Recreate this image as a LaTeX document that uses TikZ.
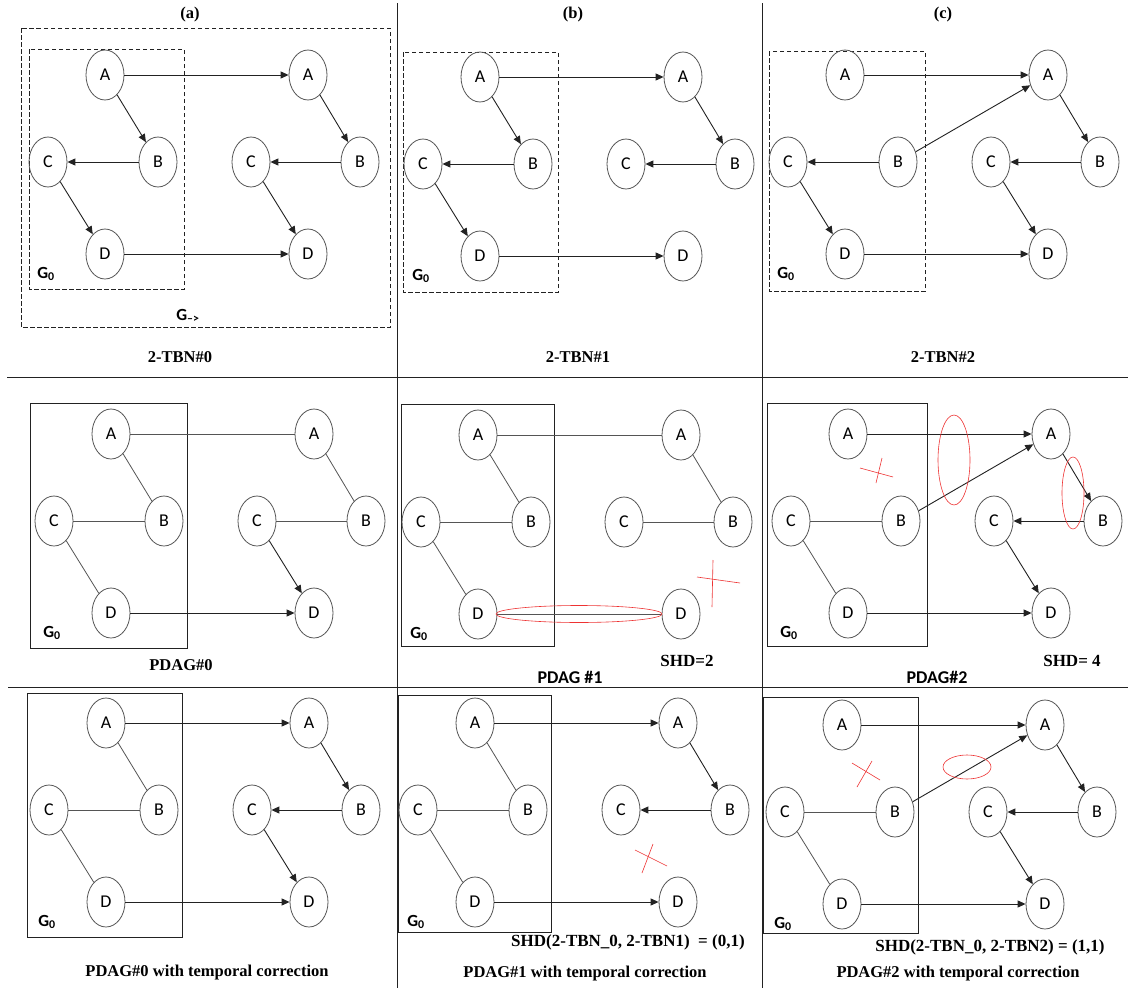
\documentclass[tikz,border=0pt]{standalone}
\usepackage{fontspec}
\setmainfont{Liberation Serif}
\setsansfont{Carlito}
\usetikzlibrary{shapes.geometric, arrows.meta}
\definecolor{Edge}{HTML}{222222}
\definecolor{Ring}{HTML}{555555}
\definecolor{Mark}{HTML}{EE3333}

\tikzset{
  var/.style={ellipse, draw=Ring, line width=0.8pt, minimum width=38pt, minimum height=50pt, inner sep=0pt, font=\sffamily\fontsize{18}{18}\selectfont},
  dir/.style={draw=Edge, line width=0.9pt, -{Triangle[length=8pt, width=7pt]}},
  und/.style={draw=Ring, line width=0.8pt},
  frame/.style={draw=Edge, line width=0.9pt},
  dframe/.style={draw=Edge, line width=0.8pt, dash pattern=on 4.5pt off 2.5pt},
  glabel/.style={font=\sffamily\bfseries\fontsize{17}{17}\selectfont},
  caption/.style={font=\bfseries\fontsize{16.5}{16.5}\selectfont},
  shdlabel/.style={font=\bfseries\fontsize{17}{17}\selectfont},
  sfcaption/.style={font=\sffamily\bfseries\fontsize{18}{18}\selectfont},
  redmark/.style={draw=Mark, line width=0.6pt},
}

% two time slices of the network, A of slice 0 at (#2,#3)
\newcommand{\slices}[3]{%
  \begin{scope}[shift={(#2,#3)}]
    \node[var] (#1A0) at (0,0) {A};
    \node[var] (#1B0) at (53,87) {B};
    \node[var] (#1C0) at (-57,87) {C};
    \node[var] (#1D0) at (0,179) {D};
    \node[var] (#1A1) at (203,0) {A};
    \node[var] (#1B1) at (255,87) {B};
    \node[var] (#1C1) at (146,87) {C};
    \node[var] (#1D1) at (203,179) {D};
    \node[glabel] (#1G) at (-59,199) {G\textsubscript{0}};
  \end{scope}}

\begin{document}
\begin{tikzpicture}[x=1pt, y=-1pt]
  \path[use as bounding box, fill=white] (0,0) rectangle (1128,988);

  % grid
  \draw[frame] (397,3) -- (397,988);
  \draw[frame] (762,3) -- (762,988);
  \draw[frame] (7,377) -- (1128,377);
  \draw[frame] (8,687) -- (1128,687);

  % row 1: 2-TBN
  \node[caption] (cola) at (190,15) {(a)};
  \node[caption] (colb) at (573,15) {(b)};
  \node[caption] (colc) at (943,15) {(c)};

  \draw[dframe] (21,28) rectangle (390,327);
  \draw[dframe] (29,49) rectangle (184,289);
  \slices{ta}{105}{75}
  \node[glabel] (tagto) at (188,316) {G\textsubscript{-->}};
  \draw[dir] (taA0) -- (taA1);
  \draw[dir] (taA0) -- (taB0);
  \draw[dir] (taB0) -- (taC0);
  \draw[dir] (taC0) -- (taD0);
  \draw[dir] (taD0) -- (taD1);
  \draw[dir] (taA1) -- (taB1);
  \draw[dir] (taB1) -- (taC1);
  \draw[dir] (taC1) -- (taD1);
  \node[caption] (tacap) at (180,357) {2-TBN\#0};

  \draw[dframe] (403,52) rectangle (558,292);
  \slices{tb}{480}{77}
  \draw[dir] (tbA0) -- (tbA1);
  \draw[dir] (tbA0) -- (tbB0);
  \draw[dir] (tbB0) -- (tbC0);
  \draw[dir] (tbC0) -- (tbD0);
  \draw[dir] (tbD0) -- (tbD1);
  \draw[dir] (tbA1) -- (tbB1);
  \draw[dir] (tbB1) -- (tbC1);
  \node[caption] (tbcap) at (578,357) {2-TBN\#1};

  \draw[dframe] (769,51) rectangle (925,291);
  \slices{tc}{845}{75}
  \draw[dir] (tcA0) -- (tcA1);
  \draw[dir] (tcB0) -- (tcA1);
  \draw[dir] (tcB0) -- (tcC0);
  \draw[dir] (tcC0) -- (tcD0);
  \draw[dir] (tcD0) -- (tcD1);
  \draw[dir] (tcA1) -- (tcB1);
  \draw[dir] (tcB1) -- (tcC1);
  \draw[dir] (tcC1) -- (tcD1);
  \node[caption] (tccap) at (943,357) {2-TBN\#2};

  % row 2: PDAG
  \draw[frame] (30,403) rectangle (187,648);
  \slices{pa}{111}{434}
  \draw[und] (paA0) -- (paA1);
  \draw[und] (paA0) -- (paB0);
  \draw[und] (paC0) -- (paB0);
  \draw[und] (paC0) -- (paD0);
  \draw[dir] (paD0) -- (paD1);
  \draw[und] (paA1) -- (paB1);
  \draw[und] (paC1) -- (paB1);
  \draw[dir] (paC1) -- (paD1);
  \node[caption] (pacap) at (181,665) {PDAG\#0};

  \draw[frame] (401,404) rectangle (554,646);
  \slices{pb}{478}{435}
  \draw[und] (pbA0) -- (pbA1);
  \draw[und] (pbA0) -- (pbB0);
  \draw[und] (pbC0) -- (pbB0);
  \draw[und] (pbC0) -- (pbD0);
  \draw[und] (pbD0) -- (pbD1);
  \draw[und] (pbA1) -- (pbB1);
  \draw[und] (pbC1) -- (pbB1);
  \draw[redmark] (579,614) ellipse [x radius=83pt, y radius=8.5pt];
  \draw[redmark] (697,577) -- (740,583);
  \draw[redmark] (713,560) -- (712,607);
  \node[shdlabel] (pbshd) at (687,661) {SHD=2};
  \node[sfcaption] (pbcap) at (570,677) {PDAG \#1};

  \draw[frame] (767,403) rectangle (927,646);
  \slices{pc}{848}{434}
  \draw[dir] (pcA0) -- (pcA1);
  \draw[dir] (pcB0) -- (pcA1);
  \draw[und] (pcC0) -- (pcB0);
  \draw[und] (pcC0) -- (pcD0);
  \draw[dir] (pcD0) -- (pcD1);
  \draw[dir] (pcA1) -- (pcB1);
  \draw[dir] (pcB1) -- (pcC1);
  \draw[dir] (pcC1) -- (pcD1);
  \draw[redmark] (954,460) ellipse [x radius=16pt, y radius=45pt];
  \draw[redmark] (1073,493) ellipse [x radius=11pt, y radius=36pt];
  \draw[redmark] (860,468) -- (893,477);
  \draw[redmark] (882,458) -- (876,483);
  \node[shdlabel] (pcshd) at (1072,661) {SHD= 4};
  \node[sfcaption] (pccap) at (937,677) {PDAG\#2};

  % row 3: PDAG with temporal correction
  \draw[frame] (27,693) rectangle (182,937);
  \slices{ca}{106}{723}
  \draw[dir] (caA0) -- (caA1);
  \draw[und] (caA0) -- (caB0);
  \draw[und] (caC0) -- (caB0);
  \draw[und] (caC0) -- (caD0);
  \draw[dir] (caD0) -- (caD1);
  \draw[dir] (caA1) -- (caB1);
  \draw[dir] (caB1) -- (caC1);
  \draw[dir] (caC1) -- (caD1);
  \node[caption] (cacap) at (207,973) {PDAG\#0 with temporal correction};

  \draw[frame] (398,695) rectangle (551,932);
  \slices{cb}{475}{723}
  \draw[dir] (cbA0) -- (cbA1);
  \draw[und] (cbA0) -- (cbB0);
  \draw[und] (cbC0) -- (cbB0);
  \draw[und] (cbC0) -- (cbD0);
  \draw[dir] (cbD0) -- (cbD1);
  \draw[dir] (cbA1) -- (cbB1);
  \draw[dir] (cbB1) -- (cbC1);
  \draw[redmark] (635,850) -- (667,866);
  \draw[redmark] (653,844) -- (642,873);
  \node[shdlabel] (cbshd) at (628,942) {SHD(2-TBN\_0, 2-TBN1) \ = (0,1)};
  \node[caption] (cbcap) at (585,974) {PDAG\#1 with temporal correction};

  \draw[frame] (763,697) rectangle (918,933);
  \slices{cc}{842}{725}
  \draw[dir] (ccA0) -- (ccA1);
  \draw[dir] (ccB0) -- (ccA1);
  \draw[und] (ccC0) -- (ccB0);
  \draw[und] (ccC0) -- (ccD0);
  \draw[dir] (ccD0) -- (ccD1);
  \draw[dir] (ccA1) -- (ccB1);
  \draw[dir] (ccB1) -- (ccC1);
  \draw[dir] (ccC1) -- (ccD1);
  \draw[redmark] (967,767) ellipse [x radius=24pt, y radius=12pt];
  \draw[redmark] (852,763) -- (880,780);
  \draw[redmark] (872,761) -- (857,787);
  \node[shdlabel] (ccshd) at (990,947) {SHD(2-TBN\_0, 2-TBN2) = (1,1)};
  \node[caption] (cccap) at (958,974) {PDAG\#2 with temporal correction};
\end{tikzpicture}
\end{document}
